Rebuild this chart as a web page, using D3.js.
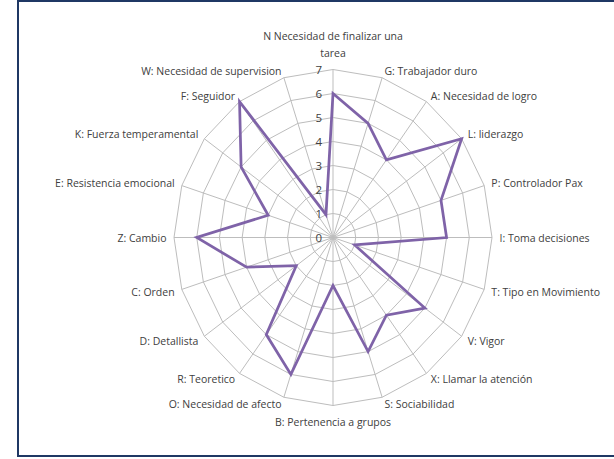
<!DOCTYPE html>
<html>
<head>
<meta charset="utf-8">
<script src="https://cdn.jsdelivr.net/npm/d3@7"></script>
<style>
  html, body { margin: 0; padding: 0; background: #fff; }
  svg { display: block; }
  text { font-family: "Open Sans", "Liberation Sans", sans-serif; fill: #404040; }
</style>
</head>
<body>
<svg id="chart" width="614" height="459"></svg>
<script>
const categories = [
  "N Necesidad de finalizar una tarea",
  "G: Trabajador duro",
  "A: Necesidad de logro",
  "L: liderazgo",
  "P: Controlador Pax",
  "I: Toma decisiones",
  "T: Tipo en Movimiento",
  "V: Vigor",
  "X: Llamar la atención",
  "S: Sociabilidad",
  "B: Pertenencia a grupos",
  "O: Necesidad de afecto",
  "R: Teoretico",
  "D: Detallista",
  "C: Orden",
  "Z: Cambio",
  "E: Resistencia emocional",
  "K: Fuerza temperamental",
  "F: Seguidor",
  "W: Necesidad de supervision"
];
const values = [6, 5, 4, 7, 5, 5, 1, 5, 4, 5, 2, 6, 5, 2, 4, 6, 3, 5, 7, 1];
const tickValues = [0, 1, 2, 3, 4, 5, 6, 7];

const svg = d3.select("#chart");
const cx = 333, cy = 237.5;

// frame
svg.append("rect").attr("x", 18).attr("y", 1).attr("width", 620).attr("height", 455)
  .attr("fill", "none").attr("stroke", "#1f3864").attr("stroke-width", 2);

const rX = d3.scaleLinear().domain([0, 7]).range([0, 159]);
const rY = d3.scaleLinear().domain([0, 7]).range([0, 168]);
const ang = d3.scaleLinear().domain([0, categories.length]).range([0, 2 * Math.PI]);

function pt(i, v) {
  const a = ang(i);
  return [cx + rX(v) * Math.sin(a), cy - rY(v) * Math.cos(a)];
}

const g = svg.append("g");

// rings
tickValues.filter(t => t > 0).forEach(t => {
  const pts = categories.map((c, i) => pt(i, t));
  g.append("path")
    .attr("d", d3.line()(pts) + "Z")
    .attr("fill", "none").attr("stroke", "#bdbdbd").attr("stroke-width", 1);
});
// spokes
categories.forEach((c, i) => {
  const p = pt(i, 7);
  g.append("line").attr("x1", cx).attr("y1", cy).attr("x2", p[0]).attr("y2", p[1])
    .attr("stroke", "#bdbdbd").attr("stroke-width", 1);
});

// tick labels
tickValues.forEach(t => {
  g.append("text").attr("x", cx - 11).attr("y", cy - rY(t))
    .attr("text-anchor", "end").attr("dominant-baseline", "central")
    .attr("font-size", 11.5).style("fill", "#404040").text(t);
});

// data polygon
const dataPts = values.map((v, i) => pt(i, v));
g.append("path").attr("d", d3.line()(dataPts) + "Z")
  .attr("fill", "none").attr("stroke", "#7f63a8").attr("stroke-width", 2.75)
  .attr("stroke-linejoin", "miter");

// category labels
categories.forEach((c, i) => {
  const a = ang(i);
  const s = Math.sin(a), co = Math.cos(a);
  const p = pt(i, 7);
  const off = 7.5;
  let x = p[0] + off * s, y = p[1] - off * co;
  let anchor = Math.abs(s) < 1e-6 ? "middle" : (s > 0 ? "start" : "end");
  if (i === 0) {
    const lines = ["N Necesidad de finalizar una", "tarea"];
    lines.forEach((ln, k) => {
      g.append("text").attr("x", cx).attr("y", 36 + k * 16.5)
        .attr("text-anchor", "middle").attr("dominant-baseline", "central")
        .attr("font-size", 10.5).text(ln);
    });
    return;
  }
  if (Math.abs(s) < 1e-6) { y = p[1] + 16.5; }
  g.append("text").attr("x", x).attr("y", y)
    .attr("text-anchor", anchor).attr("dominant-baseline", "central")
    .attr("font-size", 10.5).text(c);
});
</script>
</body>
</html>
